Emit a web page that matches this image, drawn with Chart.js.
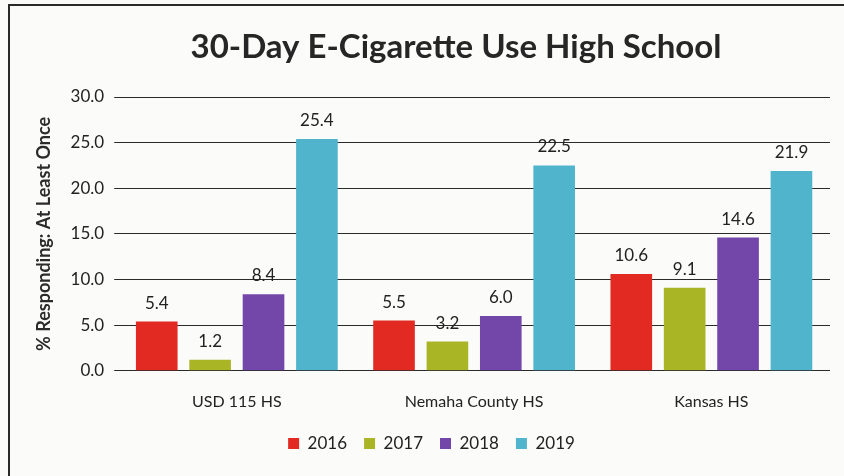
<!DOCTYPE html>
<html>
<head>
<meta charset="utf-8">
<script src="https://cdn.jsdelivr.net/npm/chart.js@4"></script>
<style>
  html, body { margin: 0; padding: 0; background: #fbfbfa; }
  #wrap { position: relative; width: 844px; height: 476px; overflow: hidden; }
  #frame { position: absolute; left: 8px; top: 4px; width: 860px; height: 500px; border: 2px solid #2a2a2a; box-sizing: border-box; }
  #c { position: absolute; left: 0; top: 0; }
</style>
</head>
<body>
<div id="wrap">
  <div id="frame"></div>
  <canvas id="c" width="844" height="476"></canvas>
</div>
<script>
const sekolah = ['USD 115 HS', 'Nemaha County HS', 'Kansas HS'];
const tahun = ['2016', '2017', '2018', '2019'];
const data2016 = [5.4, 5.5, 10.6];
const data2017 = [1.2, 3.2, 9.1];
const data2018 = [8.4, 6.0, 14.6];
const data2019 = [25.4, 22.5, 21.9];
const warna = ['#e22a23', '#aab526', '#7346aa', '#50b5cc'];

const FONT = 'Lato, "Open Sans", sans-serif';

// judul digambar sendiri supaya posisinya bisa diatur
const judulPlugin = {
  id: 'judul',
  afterDraw(chart) {
    const c = chart.ctx;
    c.save();
    c.font = 'bold 33px ' + FONT;
    c.fillStyle = '#262626';
    c.textAlign = 'center';
    c.textBaseline = 'middle';
    c.fillText('30-Day E-Cigarette Use High School', 456, 47);
    c.restore();
  }
};

// angka di atas batang
const labelPlugin = {
  id: 'labelBatang',
  afterDatasetsDraw(chart) {
    const c = chart.ctx;
    c.save();
    c.font = '17px ' + FONT;
    c.fillStyle = '#222';
    c.textAlign = 'center';
    c.textBaseline = 'bottom';
    chart.data.datasets.forEach((ds, i) => {
      chart.getDatasetMeta(i).data.forEach((bar, j) => {
        c.fillText(ds.data[j].toFixed(1), bar.x, bar.y - 10);
      });
    });
    c.restore();
  }
};

const ctx = document.getElementById('c').getContext('2d');
const chart = new Chart(ctx, {
  type: 'bar',
  data: {
    labels: sekolah,
    datasets: [
      { label: tahun[0], data: data2016, backgroundColor: warna[0] },
      { label: tahun[1], data: data2017, backgroundColor: warna[1] },
      { label: tahun[2], data: data2018, backgroundColor: warna[2] },
      { label: tahun[3], data: data2019, backgroundColor: warna[3] }
    ]
  },
  options: {
    responsive: false,
    animation: false,
    datasets: { bar: { categoryPercentage: 0.9, barPercentage: 0.78 } },
    layout: { padding: { left: 33, right: 14, top: 97, bottom: 14 } },
    plugins: {
      legend: {
        position: 'bottom',
        labels: {
          font: { family: FONT, size: 17 },
          color: '#222',
          boxWidth: 11,
          boxHeight: 11,
          padding: 17
        }
      },
      tooltip: { enabled: false }
    },
    scales: {
      x: {
        grid: { display: false },
        border: { display: false },
        ticks: { font: { family: FONT, size: 16 }, color: '#222', padding: 13 },
        afterFit: scale => { scale.height -= 6; }
      },
      y: {
        min: 0,
        max: 30,
        ticks: {
          stepSize: 5,
          font: { family: FONT, size: 17 },
          color: '#222',
          padding: 10,
          callback: v => v.toFixed(1)
        },
        grid: { color: '#2a2a2a', lineWidth: 1, drawTicks: true, tickLength: 4 },
        border: { display: false },
        title: {
          display: true,
          text: '% Responding: At Least Once',
          font: { family: FONT, size: 18, weight: 'bold' },
          color: '#2b2b2b',
          padding: { top: 0, bottom: 6 }
        }
      }
    }
  },
  plugins: [judulPlugin, labelPlugin]
});
</script>
</body>
</html>
